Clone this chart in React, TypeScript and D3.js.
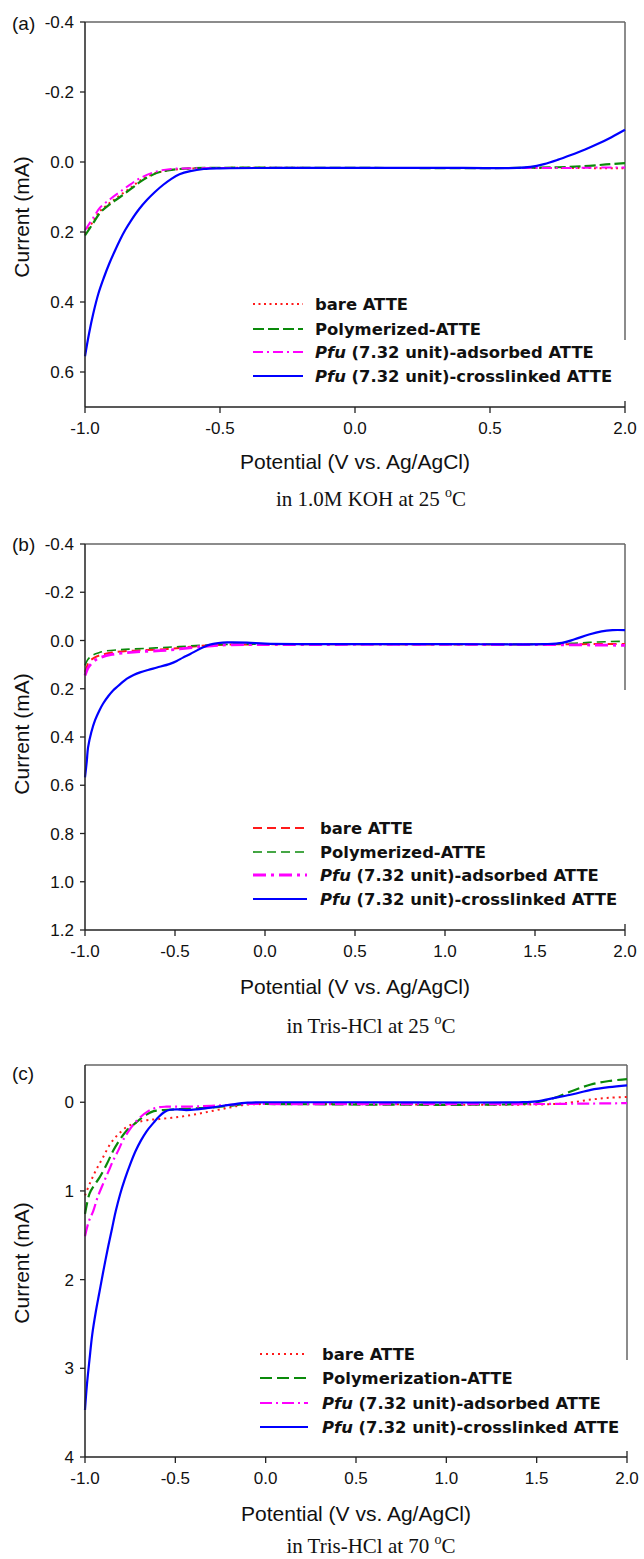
import React from 'react';
import * as d3 from 'd3';

type Pt = [number, number];

// ---------- DATA ----------
const panelLabels = ['(a)', '(b)', '(c)'];
const captionTexts = ['in 1.0M KOH at 25 ', 'in Tris-HCl at 25 ', 'in Tris-HCl at 70 '];
const xTitle = 'Potential (V vs. Ag/AgCl)';
const yTitle = 'Current (mA)';

const xTicksA = [-1, -0.5, 0, 0.5, 1];
const xTickLabelsA = ['-1.0', '-0.5', '0.0', '0.5', '2.0'];
const xTicksBC = [-1, -0.5, 0, 0.5, 1, 1.5, 2];
const xTickLabelsBC = ['-1.0', '-0.5', '0.0', '0.5', '1.0', '1.5', '2.0'];
const yTicksA = [-0.4, -0.2, 0, 0.2, 0.4, 0.6];
const yTicksB = [-0.4, -0.2, 0, 0.2, 0.4, 0.6, 0.8, 1.0, 1.2];
const yTicksC = [0, 1, 2, 3, 4];

const legendA = ['bare ATTE', 'Polymerized-ATTE', 'Pfu (7.32 unit)-adsorbed ATTE', 'Pfu (7.32 unit)-crosslinked ATTE'];
const legendB = ['bare ATTE', 'Polymerized-ATTE', 'Pfu (7.32 unit)-adsorbed ATTE', 'Pfu (7.32 unit)-crosslinked ATTE'];
const legendC = ['bare ATTE', 'Polymerization-ATTE', 'Pfu (7.32 unit)-adsorbed ATTE', 'Pfu (7.32 unit)-crosslinked ATTE'];

// Panel (a): 1.0M KOH 25 C  [potential V, current mA]
const aRed: Pt[] = [[-1.0, 0.205], [-0.97, 0.17], [-0.944, 0.14], [-0.91, 0.118], [-0.87, 0.095], [-0.83, 0.073], [-0.796, 0.053], [-0.75, 0.035], [-0.7, 0.025], [-0.62, 0.019], [-0.5, 0.017], [0, 0.017], [0.7, 0.017], [1.0, 0.018]];
const aGreen: Pt[] = [[-1.0, 0.21], [-0.97, 0.175], [-0.944, 0.145], [-0.91, 0.122], [-0.87, 0.1], [-0.83, 0.077], [-0.796, 0.057], [-0.76, 0.04], [-0.72, 0.028], [-0.65, 0.02], [-0.55, 0.017], [0, 0.017], [0.6, 0.017], [0.75, 0.015], [0.85, 0.012], [0.93, 0.007], [1.0, 0.003]];
const aMagenta: Pt[] = [[-1.0, 0.195], [-0.97, 0.16], [-0.944, 0.13], [-0.905, 0.105], [-0.87, 0.085], [-0.83, 0.063], [-0.796, 0.046], [-0.74, 0.028], [-0.68, 0.02], [-0.6, 0.018], [0, 0.017], [0.6, 0.017], [0.8, 0.017], [0.9, 0.016], [1.0, 0.016]];
const aBlue: Pt[] = [[-1.0, 0.555], [-0.985, 0.49], [-0.97, 0.435], [-0.95, 0.375], [-0.93, 0.33], [-0.91, 0.29], [-0.89, 0.255], [-0.87, 0.222], [-0.85, 0.193], [-0.83, 0.168], [-0.8, 0.135], [-0.77, 0.108], [-0.74, 0.085], [-0.71, 0.065], [-0.68, 0.048], [-0.65, 0.035], [-0.61, 0.026], [-0.56, 0.02], [-0.5, 0.018], [-0.3, 0.017], [0, 0.017], [0.4, 0.017], [0.6, 0.017], [0.65, 0.014], [0.7, 0.006], [0.75, -0.006], [0.8, -0.02], [0.85, -0.035], [0.9, -0.052], [0.95, -0.071], [1.0, -0.092]];

// Panel (b): Tris-HCl 25 C
const bRed: Pt[] = [[-1.0, 0.13], [-0.99, 0.11], [-0.98, 0.09], [-0.95, 0.072], [-0.92, 0.062], [-0.85, 0.05], [-0.73, 0.042], [-0.54, 0.035], [-0.35, 0.022], [-0.2, 0.017], [0, 0.016], [1.5, 0.016], [2.0, 0.014]];
const bGreen: Pt[] = [[-1.0, 0.103], [-0.985, 0.08], [-0.96, 0.062], [-0.92, 0.05], [-0.88, 0.043], [-0.8, 0.038], [-0.73, 0.035], [-0.54, 0.028], [-0.35, 0.02], [-0.2, 0.016], [0, 0.015], [1.5, 0.015], [1.7, 0.012], [1.85, 0.006], [2.0, 0.003]];
const bMagenta: Pt[] = [[-1.0, 0.145], [-0.99, 0.125], [-0.98, 0.11], [-0.95, 0.085], [-0.92, 0.072], [-0.85, 0.058], [-0.73, 0.048], [-0.54, 0.04], [-0.35, 0.025], [-0.2, 0.018], [0, 0.017], [1.5, 0.017], [2.0, 0.02]];
const bBlue: Pt[] = [[-1.0, 0.567], [-0.99, 0.5], [-0.983, 0.443], [-0.965, 0.38], [-0.944, 0.33], [-0.92, 0.29], [-0.9, 0.262], [-0.87, 0.23], [-0.844, 0.207], [-0.8, 0.178], [-0.767, 0.158], [-0.73, 0.143], [-0.694, 0.132], [-0.65, 0.122], [-0.6, 0.112], [-0.528, 0.097], [-0.49, 0.085], [-0.456, 0.071], [-0.415, 0.056], [-0.378, 0.041], [-0.34, 0.027], [-0.306, 0.017], [-0.26, 0.011], [-0.21, 0.008], [-0.1, 0.009], [0.0, 0.013], [0.2, 0.015], [1.0, 0.015], [1.55, 0.015], [1.65, 0.01], [1.72, -0.005], [1.8, -0.025], [1.87, -0.038], [1.93, -0.043], [2.0, -0.043]];

// Panel (c): Tris-HCl 70 C
const cRed: Pt[] = [[-1.0, 1.05], [-0.97, 0.9], [-0.94, 0.77], [-0.9, 0.62], [-0.86, 0.47], [-0.82, 0.37], [-0.77, 0.28], [-0.73, 0.24], [-0.7, 0.22], [-0.65, 0.2], [-0.59, 0.19], [-0.5, 0.17], [-0.4, 0.14], [-0.3, 0.1], [-0.2, 0.06], [-0.12, 0.03], [0, 0.02], [1.6, 0.02], [1.7, 0.0], [1.8, -0.03], [1.9, -0.05], [2.0, -0.06]];
const cGreen: Pt[] = [[-1.0, 1.26], [-0.975, 1.03], [-0.95, 0.94], [-0.92, 0.85], [-0.88, 0.7], [-0.845, 0.55], [-0.81, 0.43], [-0.77, 0.32], [-0.73, 0.25], [-0.7, 0.2], [-0.66, 0.14], [-0.62, 0.1], [-0.58, 0.09], [-0.5, 0.08], [-0.4, 0.07], [-0.3, 0.06], [-0.2, 0.04], [-0.1, 0.02], [0, 0.02], [1.4, 0.02], [1.5, 0.0], [1.6, -0.05], [1.7, -0.13], [1.8, -0.2], [1.9, -0.24], [2.0, -0.26]];
const cMagenta: Pt[] = [[-1.0, 1.51], [-0.98, 1.35], [-0.955, 1.23], [-0.93, 1.07], [-0.9, 0.92], [-0.87, 0.78], [-0.845, 0.66], [-0.815, 0.54], [-0.79, 0.43], [-0.75, 0.3], [-0.71, 0.2], [-0.65, 0.1], [-0.6, 0.06], [-0.55, 0.05], [-0.45, 0.05], [-0.3, 0.04], [-0.1, 0.02], [0, 0.02], [1.5, 0.02], [2.0, 0.01]];
const cBlue: Pt[] = [[-1.0, 3.47], [-0.99, 3.2], [-0.975, 2.9], [-0.96, 2.62], [-0.94, 2.36], [-0.92, 2.14], [-0.9, 1.92], [-0.875, 1.66], [-0.85, 1.42], [-0.83, 1.23], [-0.806, 1.04], [-0.78, 0.87], [-0.75, 0.7], [-0.72, 0.55], [-0.69, 0.43], [-0.66, 0.33], [-0.62, 0.23], [-0.59, 0.16], [-0.56, 0.11], [-0.53, 0.085], [-0.49, 0.08], [-0.44, 0.088], [-0.38, 0.08], [-0.3, 0.06], [-0.2, 0.03], [-0.1, 0.005], [0, 0.0], [0.5, 0.0], [1.4, 0.0], [1.5, -0.01], [1.6, -0.05], [1.7, -0.09], [1.8, -0.14], [1.9, -0.17], [2.0, -0.19]];

// ---------- STYLE / LAYOUT ----------
const SANS = "'Liberation Sans', Arial, sans-serif";
const LEG = "'DejaVu Sans', Verdana, sans-serif";
const SERIF = "'Liberation Serif', 'Times New Roman', serif";
const RED = '#ff1a1a', GREEN = '#0a8a0a', MAG = '#ff00ff', BLUE = '#0000ff';

type Series = { data: Pt[]; color: string; dash: string; width: number };
type Cfg = {
  label: string; caption: string; left: number; right: number; top: number; bottom: number;
  xDomain: [number, number]; yDomain: [number, number]; xTicks: number[]; xLabels: string[];
  yTicks: number[]; yFmt: (v: number) => string; rightEnd: number;
  series: Series[]; legend: string[]; legRows: number[]; legX0: number; legX1: number; legTx: number;
  labelY: number; xTitleY: number; capY: number; yTitleY: number;
};

const f1 = (v: number) => v.toFixed(1);
const f0 = (v: number) => v.toFixed(0);

const panels: Cfg[] = [
  {
    label: panelLabels[0], caption: captionTexts[0], left: 85, right: 625, top: 22, bottom: 407,
    xDomain: [-1, 1], yDomain: [-0.4, 0.7], xTicks: xTicksA, xLabels: xTickLabelsA,
    yTicks: yTicksA, yFmt: f1, rightEnd: 340,
    series: [
      { data: aRed, color: RED, dash: '2,3.5', width: 2 },
      { data: aGreen, color: GREEN, dash: '11,4', width: 2.2 },
      { data: aMagenta, color: MAG, dash: '10,4,2,4', width: 2 },
      { data: aBlue, color: BLUE, dash: '', width: 2.2 },
    ],
    legend: legendA, legRows: [304, 329, 352, 376], legX0: 253, legX1: 303, legTx: 315,
    labelY: 30, xTitleY: 469, capY: 506, yTitleY: 217,
  },
  {
    label: panelLabels[1], caption: captionTexts[1], left: 85, right: 625, top: 544, bottom: 930,
    xDomain: [-1, 2], yDomain: [-0.4, 1.2], xTicks: xTicksBC, xLabels: xTickLabelsBC,
    yTicks: yTicksB, yFmt: f1, rightEnd: 690,
    series: [
      { data: bRed, color: RED, dash: '9,5', width: 2 },
      { data: bGreen, color: GREEN, dash: '9,5', width: 1.6 },
      { data: bMagenta, color: MAG, dash: '13,5,3,5', width: 2.8 },
      { data: bBlue, color: BLUE, dash: '', width: 2.2 },
    ],
    legend: legendB, legRows: [828, 852, 875, 899], legX0: 253, legX1: 307, legTx: 320,
    labelY: 551, xTitleY: 994, capY: 1033, yTitleY: 734,
  },
  {
    label: panelLabels[2], caption: captionTexts[2], left: 85, right: 627, top: 1065, bottom: 1457,
    xDomain: [-1, 2], yDomain: [-0.42, 4], xTicks: xTicksBC, xLabels: xTickLabelsBC,
    yTicks: yTicksC, yFmt: f0, rightEnd: 1360,
    series: [
      { data: cRed, color: RED, dash: '2,4', width: 2 },
      { data: cGreen, color: GREEN, dash: '12,5', width: 2.2 },
      { data: cMagenta, color: MAG, dash: '12,4,2,4', width: 2.2 },
      { data: cBlue, color: BLUE, dash: '', width: 2.2 },
    ],
    legend: legendC, legRows: [1354, 1378, 1403, 1427], legX0: 260, legX1: 308, legTx: 322,
    labelY: 1080, xTitleY: 1521, capY: 1553, yTitleY: 1263,
  },
];

function LegendText({ s, x, y }: { s: string; x: number; y: number }) {
  const isPfu = s.startsWith('Pfu');
  return (
    <text x={x} y={y} fontFamily={LEG} fontWeight="bold" fontSize={16.4} fill="#111">
      {isPfu ? <tspan fontStyle="italic">Pfu</tspan> : null}
      <tspan>{isPfu ? ' ' + s.slice(3).trim() : s}</tspan>
    </text>
  );
}

function Panel({ c }: { c: Cfg }) {
  const x = d3.scaleLinear().domain(c.xDomain).range([c.left, c.right]);
  const y = d3.scaleLinear().domain(c.yDomain).range([c.top, c.bottom]);
  const line = d3.line<Pt>().x(d => x(d[0])).y(d => y(d[1])).curve(d3.curveCatmullRom.alpha(0.5));
  const axisCol = '#222';
  const frameCol = '#666';
  return (
    <g>
      <line x1={c.left} x2={c.right} y1={c.top} y2={c.top} stroke={frameCol} strokeWidth={1.5} />
      <line x1={c.right} x2={c.right} y1={c.top} y2={c.rightEnd} stroke={frameCol} strokeWidth={1.5} />
      {c.series.map((s, i) => (
        <path key={i} d={line(s.data) || ''} fill="none" stroke={s.color} strokeWidth={s.width}
          strokeDasharray={s.dash || undefined} strokeLinejoin="round" />
      ))}
      <line x1={c.left} x2={c.left} y1={c.top} y2={c.bottom} stroke={axisCol} strokeWidth={1.5} />
      <line x1={c.left} x2={c.right} y1={c.bottom} y2={c.bottom} stroke={axisCol} strokeWidth={1.5} />
      {c.yTicks.map((t, i) => (
        <g key={'y' + i}>
          <line x1={c.left - 5} x2={c.left} y1={y(t)} y2={y(t)} stroke={axisCol} strokeWidth={1.3} />
          <text x={74} y={y(t) + 6} textAnchor="end" fontFamily={SANS} fontSize={17} fill="#111">{c.yFmt(t)}</text>
        </g>
      ))}
      {c.xTicks.map((t, i) => (
        <g key={'x' + i}>
          <line x1={x(t)} x2={x(t)} y1={i === c.xTicks.length - 1 ? c.bottom - 6 : c.bottom} y2={c.bottom + 6}
            stroke={axisCol} strokeWidth={1.3} />
          <text x={x(t)} y={c.bottom + 27} textAnchor="middle" fontFamily={SANS} fontSize={17} fill="#111">{c.xLabels[i]}</text>
        </g>
      ))}
      <text x={12} y={c.labelY} fontFamily={SANS} fontSize={19} fill="#111">{c.label}</text>
      <text transform={`translate(29,${c.yTitleY}) rotate(-90)`} textAnchor="middle" fontFamily={SANS} fontSize={21} fill="#111">{yTitle}</text>
      <text x={(c.left + c.right) / 2} y={c.xTitleY} textAnchor="middle" fontFamily={SANS} fontSize={21} fill="#111">{xTitle}</text>
      <text x={371} y={c.capY} textAnchor="middle" fontFamily={SERIF} fontSize={21} fill="#111">
        {c.caption}
        <tspan dy={-9} fontSize={14}>o</tspan>
        <tspan dy={9}>C</tspan>
      </text>
      {c.legend.map((s, i) => {
        const st = c.series[i];
        return (
          <g key={'l' + i}>
            <line x1={c.legX0} x2={c.legX1} y1={c.legRows[i]} y2={c.legRows[i]} stroke={st.color}
              strokeWidth={st.width} strokeDasharray={st.dash || undefined} />
            <LegendText s={s} x={c.legTx} y={c.legRows[i] + 6} />
          </g>
        );
      })}
    </g>
  );
}

export default function App() {
  return (
    <svg width={644} height={1559} viewBox="0 0 644 1559"
      style={{ position: 'absolute', left: 0, top: 0, background: '#fff' }}>
      <rect x={0} y={0} width={644} height={1559} fill="#fff" />
      {panels.map((p, i) => <Panel key={i} c={p} />)}
    </svg>
  );
}
